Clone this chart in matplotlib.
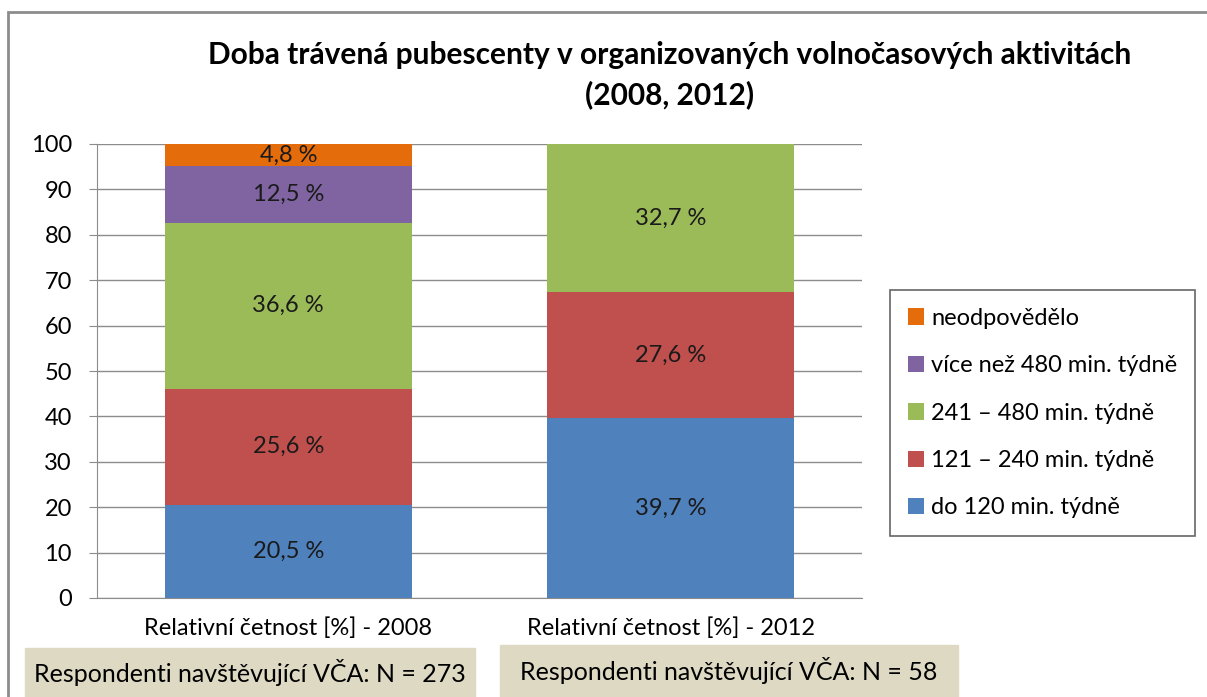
import matplotlib.pyplot as plt
from matplotlib.patches import Rectangle

plt.rcParams['font.family'] = ['Lato', 'DejaVu Sans']

categories = ['Relativní četnost [%] - 2008', 'Relativní četnost [%] - 2012']
series_names = ['do 120 min. týdně', '121 – 240 min. týdně', '241 – 480 min. týdně',
                'více než 480 min. týdně', 'neodpovědělo']
values = [
    [20.5, 39.7],
    [25.6, 27.6],
    [36.6, 32.7],
    [12.5, 0.0],
    [4.8, 0.0],
]
colors = ['#4F81BD', '#C0504D', '#9BBB59', '#8064A2', '#E46C0A']
n_labels = ['Respondenti navštěvující VČA: N = 273', 'Respondenti navštěvující VČA: N = 58']

W, H = 1207, 697
fig = plt.figure(figsize=(W / 100, H / 100), dpi=100)

# outer frame of chart
fig.patches.append(Rectangle((8 / W, -0.1), 1.2, 1 - 12 / H + 0.1, transform=fig.transFigure,
                             fill=False, edgecolor='#8c8c8c', linewidth=2))

ax = fig.add_axes([97 / W, 1 - 598 / H, (862 - 97) / W, (598 - 144) / H])

x = [0, 1]
bottom = [0, 0]
bars = []
for name, vals, c in zip(series_names, values, colors):
    b = ax.bar(x, vals, width=0.646, bottom=bottom, color=c, label=name, zorder=3)
    for xi, v, bt in zip(x, vals, bottom):
        if v > 0:
            ax.text(xi, bt + v / 2, f'{v:.1f} %'.replace('.', ','), ha='center', va='center',
                    fontsize=17, color='#1a1a1a', zorder=4)
    bars.append(b)
    bottom = [bt + v for bt, v in zip(bottom, vals)]

ax.set_xlim(-0.5, 1.5)
ax.set_ylim(0, 100)
ax.set_yticks(range(0, 101, 10))
ax.tick_params(axis='y', labelsize=17, length=6, color='#8c8c8c', pad=12)
ax.tick_params(axis='x', length=0, labelsize=17, pad=14)
ax.set_xticks(x)
ax.set_xticklabels(categories)
ax.grid(axis='y', color='#8c8c8c', linewidth=1, zorder=0)
for s in ['top', 'right']:
    ax.spines[s].set_visible(False)
ax.spines['left'].set_color('#8c8c8c')
ax.spines['bottom'].set_color('#8c8c8c')

handles = bars[::-1]
leg = fig.legend(handles, series_names[::-1], loc='upper left',
                 bbox_to_anchor=(890 / W, 1 - 290 / H), fontsize=17, frameon=True,
                 fancybox=False, edgecolor='#404040', handlelength=0.7, handleheight=0.7,
                 handletextpad=0.3, labelspacing=1.12, borderpad=0.75, borderaxespad=0)
leg.get_frame().set_linewidth(1.2)

fig.text(670 / W, 1 - 55 / H, 'Doba trávená pubescenty v organizovaných volnočasových aktivitách',
         ha='center', va='center', fontsize=21.5, fontweight='bold')
fig.text(670 / W, 1 - 95 / H, '(2008, 2012)', ha='center', va='center', fontsize=21.5,
         fontweight='bold')

# N boxes
boxes = [(25, 648, 475, 697), (500, 645, 958, 697)]
for (x0, y0, x1, y1), t in zip(boxes, n_labels):
    fig.patches.append(Rectangle((x0 / W, 1 - y1 / H), (x1 - x0) / W, (y1 - y0) / H,
                                 transform=fig.transFigure, color='#DDD9C3'))
    fig.text((x0 + x1) / 2 / W, 1 - (y0 + y1) / 2 / H, t, ha='center', va='center', fontsize=18)

fig.savefig('out.png', dpi=100)
